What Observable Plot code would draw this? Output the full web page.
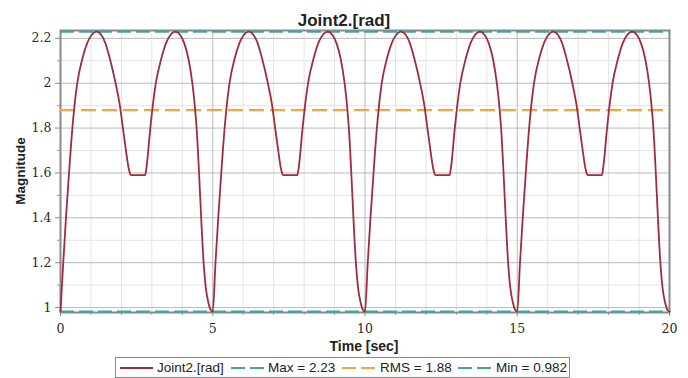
<!DOCTYPE html>
<html>
<head>
<meta charset="utf-8">
<script src="https://cdn.jsdelivr.net/npm/d3@7"></script>
<script src="https://cdn.jsdelivr.net/npm/@observablehq/plot@0.6"></script>
<style>
  html, body { margin: 0; padding: 0; background: #fff; }
  #wrap { position: relative; width: 688px; height: 378px; overflow: hidden; font-family: "Liberation Sans", Arial, sans-serif; color: #222; }
  #wrap > svg { position: absolute; left: 0; top: 0; }
  .abs { position: absolute; white-space: nowrap; }
  #title { left: 0; top: 11.6px; width: 688px; text-align: center; font-weight: bold; font-size: 17px; line-height: 17px; color: #222; }
  #xlabel { left: 264px; top: 339px; width: 200px; text-align: center; font-weight: bold; font-size: 14px; line-height: 14px; }
  #ylabel { left: 21px; top: 171px; font-weight: bold; font-size: 13.5px; line-height: 14px; transform: translate(-50%, -50%) rotate(-90deg); }
  #legend { left: 115px; top: 357px; width: 455px; height: 21px; box-sizing: border-box; border: 1px solid #8a8a8a; background: #fff; }
  .ltxt { position: absolute; top: 0; font-size: 13.5px; line-height: 20px; color: #222; }
  .lsw { position: absolute; top: 0; }
</style>
</head>
<body>
<div id="wrap"></div>
<script>
// ---- data ----
const times = [
  0, 0.09, 0.18, 0.28, 0.39, 0.46, 0.55, 0.72, 0.88, 1.02, 1.18, 1.34, 1.47, 1.62, 1.81, 1.95, 2.05, 2.15, 2.24, 2.29, 2.33, 2.78, 2.82, 2.95, 3.03, 3.13, 3.31, 3.47, 3.61, 3.77, 3.93, 4.06, 4.2, 4.33, 4.41, 4.47, 4.55, 4.62, 4.7, 4.77, 4.86, 4.93,
  5, 5.09, 5.18, 5.28, 5.39, 5.46, 5.55, 5.72, 5.88, 6.02, 6.18, 6.34, 6.47, 6.62, 6.81, 6.95, 7.05, 7.15, 7.24, 7.29, 7.33, 7.78, 7.82, 7.95, 8.03, 8.13, 8.31, 8.47, 8.61, 8.77, 8.93, 9.06, 9.2, 9.33, 9.41, 9.47, 9.55, 9.62, 9.7, 9.77, 9.86, 9.93,
  10, 10.09, 10.18, 10.28, 10.39, 10.46, 10.55, 10.72, 10.88, 11.02, 11.18, 11.34, 11.47, 11.62, 11.81, 11.95, 12.05, 12.15, 12.24, 12.29, 12.33, 12.78, 12.82, 12.95, 13.03, 13.13, 13.31, 13.47, 13.61, 13.77, 13.93, 14.06, 14.2, 14.33, 14.41, 14.47, 14.55, 14.62, 14.7, 14.77, 14.86, 14.93,
  15, 15.09, 15.18, 15.28, 15.39, 15.46, 15.55, 15.72, 15.88, 16.02, 16.18, 16.34, 16.47, 16.62, 16.81, 16.95, 17.05, 17.15, 17.24, 17.29, 17.33, 17.78, 17.82, 17.95, 18.03, 18.13, 18.31, 18.47, 18.61, 18.77, 18.93, 19.06, 19.2, 19.33, 19.41, 19.47, 19.55, 19.62, 19.7, 19.77, 19.86, 19.93,
  20
];
const joint2 = [
  0.982, 1.2, 1.4, 1.6, 1.8, 1.9, 2.0, 2.11, 2.18, 2.215, 2.23, 2.215, 2.18, 2.11, 2.0, 1.9, 1.8, 1.7, 1.62, 1.595, 1.59, 1.59, 1.62, 1.8, 1.9, 2.0, 2.11, 2.18, 2.215, 2.23, 2.215, 2.18, 2.11, 2.0, 1.9, 1.8, 1.6, 1.4, 1.2, 1.09, 1.02, 0.99,
  0.982, 1.2, 1.4, 1.6, 1.8, 1.9, 2.0, 2.11, 2.18, 2.215, 2.23, 2.215, 2.18, 2.11, 2.0, 1.9, 1.8, 1.7, 1.62, 1.595, 1.59, 1.59, 1.62, 1.8, 1.9, 2.0, 2.11, 2.18, 2.215, 2.23, 2.215, 2.18, 2.11, 2.0, 1.9, 1.8, 1.6, 1.4, 1.2, 1.09, 1.02, 0.99,
  0.982, 1.2, 1.4, 1.6, 1.8, 1.9, 2.0, 2.11, 2.18, 2.215, 2.23, 2.215, 2.18, 2.11, 2.0, 1.9, 1.8, 1.7, 1.62, 1.595, 1.59, 1.59, 1.62, 1.8, 1.9, 2.0, 2.11, 2.18, 2.215, 2.23, 2.215, 2.18, 2.11, 2.0, 1.9, 1.8, 1.6, 1.4, 1.2, 1.09, 1.02, 0.99,
  0.982, 1.2, 1.4, 1.6, 1.8, 1.9, 2.0, 2.11, 2.18, 2.215, 2.23, 2.215, 2.18, 2.11, 2.0, 1.9, 1.8, 1.7, 1.62, 1.595, 1.59, 1.59, 1.62, 1.8, 1.9, 2.0, 2.11, 2.18, 2.215, 2.23, 2.215, 2.18, 2.11, 2.0, 1.9, 1.8, 1.6, 1.4, 1.2, 1.09, 1.02, 0.99,
  0.982
];
const maxValue = 2.23;
const rmsValue = 1.88;
const minValue = 0.982;

const xTicks = [0, 5, 10, 15, 20];
const xTickLabels = ["0", "5", "10", "15", "20"];
const xMinor = [1, 2, 3, 4, 6, 7, 8, 9, 11, 12, 13, 14, 16, 17, 18, 19];
const yTicks = [1, 1.2, 1.4, 1.6, 1.8, 2, 2.2];
const yTickLabels = ["1", "1.2", "1.4", "1.6", "1.8", "2", "2.2"];
const yMinor = [1.1, 1.3, 1.5, 1.7, 1.9, 2.1];

const legendLabels = ["Joint2.[rad]", "Max = 2.23", "RMS = 1.88", "Min = 0.982"];

// ---- styling ----
const cRed = "#a02c3c", cTeal = "#42a3a8", cOrange = "#f8a43e";
const tickFont = "DejaVu Serif";

const data = times.map((t, i) => ({t, v: joint2[i]}));

const chart = Plot.plot({
  width: 688,
  height: 378,
  marginTop: 30,
  marginBottom: 66,
  marginLeft: 60,
  marginRight: 19,
  style: {fontSize: "13px", color: "#2a2a2a", background: "transparent", overflow: "visible"},
  x: {domain: [0, 20]},
  y: {domain: [0.978, 2.235]},
  marks: [
    Plot.gridX({ticks: xMinor, stroke: "#e4e4e4", strokeOpacity: 1}),
    Plot.gridY({ticks: yMinor, stroke: "#e4e4e4", strokeOpacity: 1}),
    Plot.gridX({ticks: xTicks, stroke: "#b9b9b9", strokeOpacity: 1}),
    Plot.gridY({ticks: yTicks, stroke: "#b9b9b9", strokeOpacity: 1}),
    Plot.axisX({ticks: xTicks, tickSize: 4, tickPadding: 8, stroke: "#888", label: null,
      fontFamily: tickFont, fontSize: 12.5,
      tickFormat: d => xTickLabels[xTicks.indexOf(d)]}),
    Plot.axisX({ticks: xMinor, tickSize: 3, stroke: "#999", text: null, label: null}),
    Plot.axisY({ticks: yTicks, tickSize: 5, tickPadding: 4, stroke: "#888", label: null,
      fontFamily: tickFont, fontSize: 12.5,
      tickFormat: d => yTickLabels[yTicks.indexOf(d)]}),
    Plot.axisY({ticks: yMinor, tickSize: 3, stroke: "#999", text: null, label: null}),
    Plot.frame({stroke: "#8a8a8a", strokeWidth: 2}),
    Plot.ruleY([maxValue], {stroke: cTeal, strokeWidth: 2.2, strokeDasharray: "14,5"}),
    Plot.ruleY([rmsValue], {stroke: cOrange, strokeWidth: 2.2, strokeDasharray: "15,6"}),
    Plot.ruleY([minValue], {stroke: cTeal, strokeWidth: 2.2, strokeDasharray: "14,5"}),
    Plot.line(data, {x: "t", y: "v", stroke: cRed, strokeWidth: 1.8, curve: "monotone-x"})
  ]
});

const wrap = document.getElementById("wrap");
wrap.appendChild(chart);

function addDiv(id, cls, text) {
  const d = document.createElement("div");
  if (id) d.id = id;
  d.className = cls;
  d.textContent = text;
  wrap.appendChild(d);
  return d;
}
addDiv("title", "abs", "Joint2.[rad]");
addDiv("xlabel", "abs", "Time [sec]");
addDiv("ylabel", "abs", "Magnitude");

const legend = addDiv("legend", "abs", "");
const items = [
  {label: legendLabels[0], color: cRed, dash: null, sx: 4, tx: 41},
  {label: legendLabels[1], color: cTeal, dash: "14,5", sx: 115, tx: 152},
  {label: legendLabels[2], color: cOrange, dash: "14,5", sx: 226, tx: 264},
  {label: legendLabels[3], color: cTeal, dash: "14,5", sx: 342, tx: 380}
];
items.forEach(it => {
  const ns = "http://www.w3.org/2000/svg";
  const s = document.createElementNS(ns, "svg");
  s.setAttribute("class", "lsw");
  s.setAttribute("width", 33);
  s.setAttribute("height", 19);
  s.style.left = it.sx + "px";
  const l = document.createElementNS(ns, "line");
  l.setAttribute("x1", 0); l.setAttribute("x2", 33);
  l.setAttribute("y1", 10); l.setAttribute("y2", 10);
  l.setAttribute("stroke", it.color);
  l.setAttribute("stroke-width", 2);
  if (it.dash) l.setAttribute("stroke-dasharray", it.dash);
  s.appendChild(l);
  legend.appendChild(s);
  const t = document.createElement("div");
  t.className = "ltxt";
  t.style.left = it.tx + "px";
  t.textContent = it.label;
  legend.appendChild(t);
});
</script>
</body>
</html>
